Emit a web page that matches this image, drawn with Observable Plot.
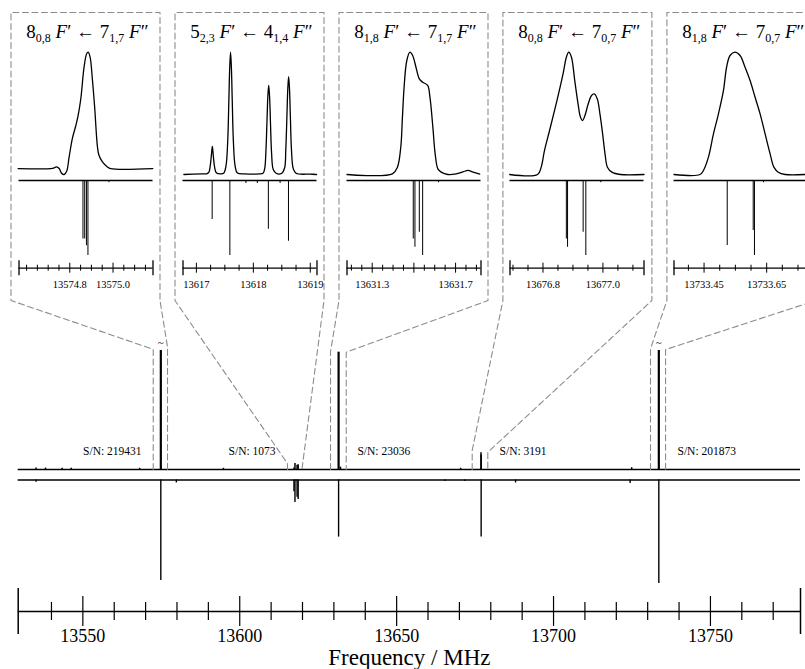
<!DOCTYPE html>
<html><head><meta charset="utf-8">
<script src="https://cdn.jsdelivr.net/npm/d3@7"></script>
<script src="https://cdn.jsdelivr.net/npm/@observablehq/plot@0.6"></script>
<style>
html,body{margin:0;padding:0;background:#fff;}
#fig{position:relative;width:805px;height:669px;overflow:hidden;font-family:"Liberation Serif","DejaVu Serif",serif;background:#fff;}
#fig svg{position:absolute;background:transparent;}
.ttl{position:absolute;text-align:center;font-size:19px;line-height:19px;white-space:nowrap;color:#000;font-family:"Liberation Serif",serif;}
.ttl .s{font-size:12px;position:relative;top:4px;}
</style></head><body><div id="fig"></div>
<script>
// ================= DATA =================
// main frequency axis
const xDomain = [13529.4, 13778.7];
const majorTicks = [13550, 13600, 13650, 13700, 13750];
const minorTicks = [13540, 13560, 13570, 13580, 13590, 13610, 13620, 13630, 13640, 13660, 13670, 13680, 13690, 13710, 13720, 13730, 13740, 13760, 13770];

// experimental spectrum (upward)
const expFreq = [13535.1, 13538.1, 13543.4, 13546.3, 13568.1, 13574.85, 13594.8, 13617.28, 13617.60, 13618.27, 13618.62, 13631.50, 13632.1, 13670.4, 13676.88, 13676.94, 13724.9, 13733.55];
const expInt  = [0.012, 0.012, 0.01, 0.01, 0.01, 1.0, 0.01, 0.012, 0.05, 0.035, 0.04, 0.986, 0.02, 0.01, 0.14, 0.12, 0.015, 1.0];
// simulated spectrum (downward)
const simFreq = [13535.1, 13574.85, 13579.8, 13617.28, 13617.60, 13618.27, 13618.62, 13631.50, 13665.4, 13671.7, 13676.93, 13687.9, 13724.4, 13733.55];
const simInt  = [0.02, 0.845, 0.025, 0.10, 0.19, 0.145, 0.164, 0.48, 0.012, 0.012, 0.48, 0.025, 0.03, 0.87];
const brokenFreq = [13574.85, 13733.55];

// S/N labels
const snText = ["S/N: 219431", "S/N: 1073", "S/N: 23036", "S/N: 3191", "S/N: 201873"];
const snFreq = [13568.7, 13611.4, 13637.5, 13682.8, 13739.5];
const snAnchor = ["end", "end", "start", "start", "start"];

// zoom windows in the main spectrum
const zoomLeft  = [13572.43, 13615.22, 13628.93, 13674.08, 13730.9];
const zoomRight = [13576.98, 13619.91, 13633.93, 13679.05, 13735.7];
const zoomTopL  = [1.01, 0.05, 0.99, 0.16, 1.014];
const zoomTopR  = [1.03, 0.02, 0.986, 0.145, 1.008];

// inset titles
const upJ = ["8", "5", "8", "8", "8"];
const upK = ["0,8", "2,3", "1,8", "0,8", "1,8"];
const loJ = ["7", "4", "7", "7", "7"];
const loK = ["1,7", "1,4", "1,7", "0,7", "0,7"];

// inset axes
const insDomain = [[13574.565, 13575.185], [13616.765, 13619.118], [13631.179, 13631.822], [13676.690, 13677.137], [13733.354, 13733.782]];
const insMajor = [[13574.8, 13575.0], [13617, 13618, 13619], [13631.3, 13631.5, 13631.7], [13676.8, 13677.0], [13733.45, 13733.65]];
const insMinor = [
  [13574.6, 13574.65, 13574.7, 13574.75, 13574.85, 13574.9, 13574.95, 13575.05, 13575.1, 13575.15],
  [13617.25, 13617.5, 13617.75, 13618.25, 13618.5, 13618.75],
  [13631.2, 13631.25, 13631.35, 13631.4, 13631.45, 13631.55, 13631.6, 13631.65, 13631.75, 13631.8],
  [13676.7, 13676.75, 13676.85, 13676.9, 13676.95, 13677.05, 13677.1],
  [13733.4, 13733.5, 13733.55, 13733.6, 13733.7, 13733.75]
];
const insLabelVals = [[13574.8, 13575.0], [13617, 13618, 13619], [13631.3, 13631.7], [13676.8, 13677.0], [13733.45, 13733.65]];
const insLabelFmt = [".1f", "d", ".1f", ".1f", ".2f"];

// inset experimental traces
const tr1f = [13574.561, 13574.712, 13574.728, 13574.738, 13574.751, 13574.762, 13574.774, 13574.786, 13574.797, 13574.812, 13574.828, 13574.838, 13574.851, 13574.866, 13574.878, 13574.885, 13574.894, 13574.905, 13574.915, 13574.928, 13574.935, 13574.951, 13574.974, 13574.989, 13575.184];
const tr1i = [0, 0, 0.006, 0.014, 0.0, -0.04, -0.051, -0.02, 0.10, 0.26, 0.37, 0.45, 0.60, 0.871, 0.986, 1.0, 0.957, 0.757, 0.529, 0.186, 0.114, 0.057, 0.014, 0, 0];
const tr2f = [13616.78, 13617.10, 13617.18, 13617.22, 13617.24, 13617.26, 13617.27, 13617.28, 13617.29, 13617.30, 13617.32, 13617.35, 13617.42, 13617.48, 13617.52, 13617.55, 13617.57, 13617.585, 13617.60, 13617.615, 13617.63, 13617.65, 13617.68, 13617.72, 13617.85, 13618.10, 13618.17, 13618.20, 13618.22, 13618.24, 13618.255, 13618.27, 13618.285, 13618.30, 13618.32, 13618.35, 13618.40, 13618.50, 13618.55, 13618.57, 13618.59, 13618.605, 13618.62, 13618.635, 13618.65, 13618.67, 13618.70, 13618.75, 13619.0, 13619.11];
const tr2i = [0.0, 0.005, 0.006, 0.02, 0.06, 0.14, 0.19, 0.229, 0.19, 0.14, 0.06, 0.015, 0.005, 0.01, 0.07, 0.27, 0.6, 0.87, 1.0, 0.87, 0.6, 0.27, 0.07, 0.012, 0.005, 0.005, 0.01, 0.05, 0.18, 0.44, 0.64, 0.728, 0.64, 0.44, 0.18, 0.04, 0.01, 0.01, 0.055, 0.2, 0.48, 0.70, 0.801, 0.70, 0.48, 0.2, 0.05, 0.01, 0.003, 0.0];
const tr3f = [13631.179, 13631.397, 13631.421, 13631.437, 13631.445, 13631.453, 13631.466, 13631.481, 13631.494, 13631.510, 13631.526, 13631.542, 13631.566, 13631.577, 13631.591, 13631.602, 13631.615, 13631.631, 13631.663, 13631.703, 13631.736, 13631.760, 13631.784, 13631.816];
const tr3i = [0, 0.005, 0.06, 0.223, 0.469, 0.714, 0.932, 1.0, 0.973, 0.877, 0.782, 0.755, 0.728, 0.632, 0.387, 0.169, 0.046, 0.019, 0, 0.005, 0.022, 0.033, 0.019, 0.003];
const tr4f = [13676.689, 13676.782, 13676.794, 13676.805, 13676.822, 13676.844, 13676.867, 13676.878, 13676.886, 13676.895, 13676.906, 13676.917, 13676.925, 13676.932, 13676.940, 13676.951, 13676.962, 13676.971, 13676.981, 13676.990, 13676.999, 13677.007, 13677.015, 13677.030, 13677.058, 13677.137];
const tr4i = [0, 0, 0.06, 0.196, 0.36, 0.578, 0.823, 0.959, 1, 0.959, 0.768, 0.578, 0.469, 0.441, 0.482, 0.578, 0.646, 0.659, 0.619, 0.496, 0.332, 0.169, 0.06, 0.019, 0, 0];
const tr5f = [13733.354, 13733.437, 13733.448, 13733.464, 13733.480, 13733.496, 13733.512, 13733.522, 13733.533, 13733.549, 13733.565, 13733.581, 13733.597, 13733.613, 13733.629, 13733.645, 13733.661, 13733.673, 13733.687, 13733.709, 13733.773];
const tr5i = [0, 0, 0.033, 0.142, 0.332, 0.496, 0.687, 0.877, 0.973, 1, 0.973, 0.877, 0.768, 0.632, 0.496, 0.332, 0.169, 0.06, 0.019, 0, 0];

// inset predicted stick spectra
const st1f = [13574.861, 13574.869, 13574.877, 13574.884, 13574.981];
const st1i = [0.78, 0.78, 0.87, 1.0, 0.03];
const st2f = [13617.277, 13617.588, 13617.87, 13618.07, 13618.264, 13618.47, 13618.617];
const st2i = [0.52, 1.0, 0.04, 0.04, 0.65, 0.04, 0.81];
const st3f = [13631.497, 13631.505, 13631.526, 13631.542, 13631.618];
const st3i = [0.78, 0.89, 0.69, 1.0, 0.03];
const st4f = [13676.878, 13676.882, 13676.934, 13676.943, 13676.993];
const st4i = [0.78, 0.89, 0.69, 1.0, 0.03];
const st5f = [13733.524, 13733.607, 13733.611, 13733.640];
const st5i = [0.867, 0.667, 1.0, 0.03];

const traceF = [tr1f, tr2f, tr3f, tr4f, tr5f];
const traceI = [tr1i, tr2i, tr3i, tr4i, tr5i];
const stickF = [st1f, st2f, st3f, st4f, st5f];
const stickI = [st1i, st2i, st3i, st4i, st5i];

// ================= LAYOUT =================
const W = 805, H = 669;
const SIM_BASE = -0.088;           // offset of simulated trace baseline (intensity units)
const AXIS_Y = 611;
const BOX_LEFT = [10.5, 174.5, 338.5, 502.4, 666.4];
const BOX_W = 149, BOX_TOP = 12, BOX_BOTTOM = 300;
const FONT = "Liberation Serif";
const STYLE = "font-family: 'Liberation Serif', serif; background: transparent;";
const fig = document.getElementById("fig");
function place(svg, left, top) { svg.style.left = left + "px"; svg.style.top = top + "px"; fig.appendChild(svg); }

function axisMarks({domain, major, minor, labelVals, fmt, majorLen, minorLen, endLen, fontSize, labelDy, lineW, tickW}) {
  return [
    Plot.ruleY([0], {strokeWidth: lineW}),
    Plot.ruleX(minor, {x: d => d, y1: -minorLen, y2: minorLen, strokeWidth: tickW}),
    Plot.ruleX(major, {x: d => d, y1: -majorLen, y2: majorLen, strokeWidth: tickW}),
    Plot.ruleX(domain, {x: d => d, y1: -endLen, y2: endLen, strokeWidth: lineW}),
    Plot.text(labelVals, {x: d => d, y: d => 0, dy: labelDy, text: d => d3.format(fmt)(d), fontSize, fontFamily: FONT, fill: "#000"})
  ];
}

// ---------- main spectrum ----------
const exp = expFreq.map((f, i) => ({f, h: expInt[i]}));
const sim = simFreq.map((f, i) => ({f, h: simInt[i]}));
const sn = snText.map((t, i) => ({t, f: snFreq[i], a: snAnchor[i]}));

const main = Plot.plot({
  width: W, height: H, marginLeft: 17.7, marginRight: 5, marginTop: 0, marginBottom: 0,
  style: STYLE,
  x: {domain: xDomain, axis: null},
  y: {domain: [0, 1], range: [469, 350], axis: null},
  marks: [
    Plot.ruleY([0], {strokeWidth: 1.6}),
    Plot.ruleY([SIM_BASE], {strokeWidth: 1.6}),
    Plot.ruleX(exp, {x: "f", y1: 0, y2: "h", strokeWidth: d => d.h > 0.5 ? 2.2 : 1.5}),
    Plot.ruleX(sim, {x: "f", y1: SIM_BASE, y2: d => SIM_BASE - d.h, strokeWidth: 1.4}),
    Plot.text(brokenFreq, {x: d => d, y: d => 1, dy: -8, text: d => "~", fontSize: 11, fontFamily: FONT}),
    Plot.text(sn.filter(d => d.a === "end"), {x: "f", y: d => 0, dy: -18, text: "t", textAnchor: "end", fontSize: 11.5, fontFamily: FONT}),
    Plot.text(sn.filter(d => d.a === "start"), {x: "f", y: d => 0, dy: -18, text: "t", textAnchor: "start", fontSize: 11.5, fontFamily: FONT})
  ]
});
place(main, 0, 0);

// ---------- main frequency axis ----------
const axisMain = Plot.plot({
  width: W, height: H, marginLeft: 17.7, marginRight: 5, marginTop: 0, marginBottom: 0,
  style: STYLE,
  x: {domain: xDomain, axis: null},
  y: {domain: [-1, 1], range: [AXIS_Y + 1, AXIS_Y - 1], axis: null},
  marks: [
    ...axisMarks({domain: xDomain, major: majorTicks, minor: minorTicks, labelVals: majorTicks, fmt: "d",
      majorLen: 15, minorLen: 9, endLen: 23, fontSize: 18, labelDy: 25, lineW: 1.5, tickW: 1.2}),
    Plot.text(["Frequency / MHz"], {frameAnchor: "middle", y: d => 0, dy: 46, text: d => d, fontSize: 23, fontFamily: FONT})
  ]
});
place(axisMain, 0, 0);

// ---------- connectors + inset boxes ----------
const mx = main.scale("x"), my = main.scale("y");
const outline = [];
for (let k = 0; k < 5; k++) {
  const L = BOX_LEFT[k], R = L + BOX_W;
  const pts = [
    [mx.apply(zoomLeft[k]), my.apply(0)], [mx.apply(zoomLeft[k]), my.apply(zoomTopL[k])],
    [L, BOX_BOTTOM], [L, BOX_TOP], [R, BOX_TOP], [R, BOX_BOTTOM],
    [mx.apply(zoomRight[k]), my.apply(zoomTopR[k])], [mx.apply(zoomRight[k]), my.apply(0)]
  ];
  pts.forEach(p => outline.push({k, x: p[0], y: p[1]}));
}
const conn = Plot.plot({
  width: W, height: H, margin: 0,
  style: STYLE,
  x: {type: "identity", axis: null}, y: {type: "identity", axis: null},
  marks: [Plot.line(outline, {x: "x", y: "y", z: "k", stroke: "#8c8c8c", strokeWidth: 1.1, strokeDasharray: "6,3.5"})]
});
place(conn, 0, 0);

// ---------- insets ----------
for (let k = 0; k < 5; k++) {
  const L = BOX_LEFT[k];
  const common = {width: BOX_W, height: BOX_BOTTOM - BOX_TOP, marginLeft: 7.5, marginRight: 7.5, marginTop: 0, marginBottom: 0,
    style: STYLE, x: {domain: insDomain[k], axis: null}};
  const trace = traceF[k].map((f, i) => ({f, v: traceI[k][i]}));
  const sticks = stickF[k].map((f, i) => ({f, v: stickI[k][i]}));

  const tp = Plot.plot({...common,
    y: {domain: d3.extent(traceI[k]), range: [162, 39.7], axis: null},
    marks: [Plot.line(trace, {x: "f", y: "v", curve: "catmull-rom", strokeWidth: 1.3})]
  });
  place(tp, L, BOX_TOP);

  const sp = Plot.plot({...common,
    y: {domain: [0, 1], range: [168, 243], axis: null},
    marks: [
      Plot.ruleY([0], {strokeWidth: 1.3}),
      Plot.ruleX(sticks, {x: "f", y1: 0, y2: "v", strokeWidth: 1})
    ]
  });
  place(sp, L, BOX_TOP);

  const ap = Plot.plot({...common,
    y: {domain: [-1, 1], range: [255.7 + 1, 255.7 - 1], axis: null},
    marks: axisMarks({domain: insDomain[k], major: insMajor[k], minor: insMinor[k], labelVals: insLabelVals[k], fmt: insLabelFmt[k],
      majorLen: 5, minorLen: 3, endLen: 7.5, fontSize: 10.5, labelDy: 16.6, lineW: 1.3, tickW: 1})
  });
  place(ap, L, BOX_TOP);

  const t = document.createElement("div");
  t.className = "ttl";
  t.style.left = (L + 2.5) + "px";
  t.style.width = BOX_W + "px";
  t.style.top = "21.6px";
  t.innerHTML = `${upJ[k]}<span class="s">${upK[k]}</span> <i>F</i>\u2032 \u2190 ${loJ[k]}<span class="s">${loK[k]}</span> <i>F</i>\u2033`;
  fig.appendChild(t);
}
</script>
</body></html>
